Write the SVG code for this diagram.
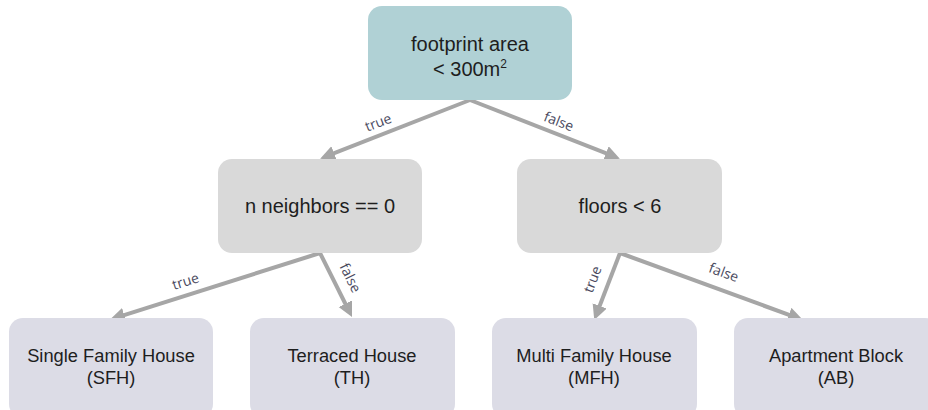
<svg xmlns="http://www.w3.org/2000/svg" width="928" height="410" viewBox="0 0 928 410">
<style>
.n text{font-family:"Liberation Sans",Arial,sans-serif;font-size:20px;fill:#1e1e1e;text-anchor:middle}
.n.lf text{font-size:18.3px}
.top{fill:#b0d1d5}
.mid{fill:#d9d9d9}
.leaf{fill:#dcdce6}
.e{stroke:#a6a6a6;stroke-width:4;fill:none;marker-end:url(#ah)}
.lbl{font-family:"Open Sans","DejaVu Sans",sans-serif;font-size:14px;fill:#4a4a5e;text-anchor:middle}
</style>
<defs>
<marker id="ah" markerUnits="userSpaceOnUse" markerWidth="16" markerHeight="16" refX="6" refY="7.5" orient="auto" viewBox="0 0 16 16">
<path d="M0,0 L15,7.5 L0,15 z" fill="#a6a6a6"/>
</marker>
</defs>
<g id="connectors">
<path class="e" d="M470,100 L328.5,155.4"/>
<path class="e" d="M470,100 L611.5,155.4"/>
<path class="e" d="M320,253 L118.6,316.9"/>
<path class="e" d="M320,253 L348,309"/>
<path class="e" d="M620,253 L597.5,311.5"/>
<path class="e" d="M620,253 L794.5,316.9"/>
<text class="lbl" transform="translate(380,127) rotate(-21)">true</text>
<text class="lbl" transform="translate(557,126) rotate(21)">false</text>
<text class="lbl" transform="translate(187,286) rotate(-17.6)">true</text>
<text class="lbl" transform="translate(346,280) rotate(63.4)">false</text>
<text class="lbl" transform="translate(597,281) rotate(-69)">true</text>
<text class="lbl" transform="translate(722,277) rotate(20)">false</text>
</g>
<g id="root" class="n">
<rect class="top" x="368" y="6" width="204" height="94" rx="14"/>
<text x="470" y="51">footprint area</text>
<text x="470" y="76">&lt; 300m<tspan font-size="12" dy="-8">2</tspan></text>
</g>
<g id="neighbors" class="n">
<rect class="mid" x="218" y="159" width="204" height="94" rx="14"/>
<text x="320" y="213">n neighbors == 0</text>
</g>
<g id="floors" class="n">
<rect class="mid" x="517" y="159" width="205" height="94" rx="14"/>
<text x="620" y="213">floors &lt; 6</text>
</g>
<g id="sfh" class="n lf">
<rect class="leaf" x="9" y="318" width="204" height="100" rx="14"/>
<text x="111" y="362">Single Family House</text>
<text x="111" y="384">(SFH)</text>
</g>
<g id="th" class="n lf">
<rect class="leaf" x="250" y="318" width="205" height="100" rx="14"/>
<text x="352" y="362">Terraced House</text>
<text x="352" y="384">(TH)</text>
</g>
<g id="mfh" class="n lf">
<rect class="leaf" x="492" y="318" width="205" height="100" rx="14"/>
<text x="594" y="362">Multi Family House</text>
<text x="594" y="384">(MFH)</text>
</g>
<g id="ab" class="n lf">
<rect class="leaf" x="734" y="318" width="205" height="100" rx="14"/>
<text x="836" y="362">Apartment Block</text>
<text x="836" y="384">(AB)</text>
</g>
</svg>
